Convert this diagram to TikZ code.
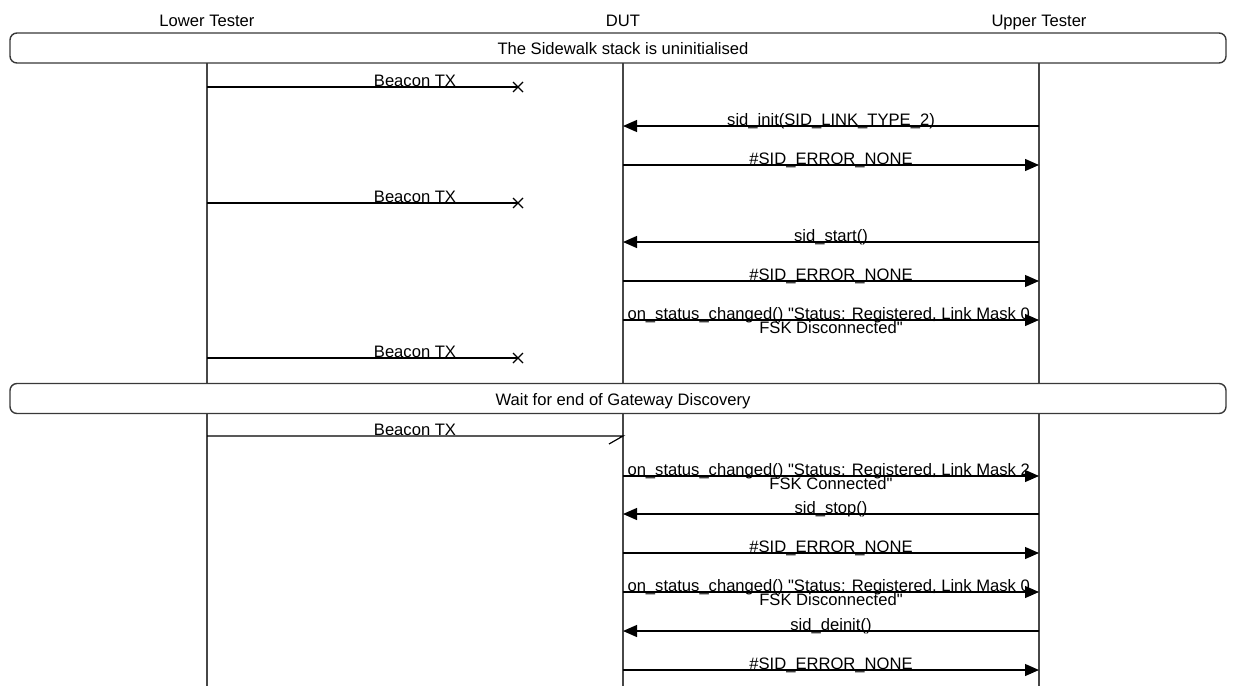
\documentclass[tikz,border=0pt]{standalone}
\usepackage{fontspec}
\setmainfont[Ligatures=TeXOff]{Liberation Sans}
\usetikzlibrary{arrows.meta}
\newcommand\mytightlines{\lineskiplimit=-30pt\relax\lineskip=0pt\relax}
\begin{document}
\begin{tikzpicture}[x=1pt,y=-1pt,
  font=\fontsize{16.6}{14}\selectfont,
  life/.style={draw=black!72, line width=1.7pt},
  framebox/.style={draw=black!78, line width=1.4pt, rounded corners=7pt},
  msg/.style={draw=black, line width=1.2pt},
  sync/.style={msg, -{Triangle[length=14pt,width=12pt]}},
  lbl/.style={anchor=base, inner sep=0pt},
  lbltwo/.style={anchor=base, inner sep=0pt, align=center,
    font=\fontsize{16.6}{13.5}\selectfont\mytightlines},
  ]
\useasboundingbox (0,0) rectangle (1236,686);
% headers
\node[lbl] (hlt) at (207,26) {Lower Tester};
\node[lbl] (hdut) at (623,26) {DUT};
\node[lbl] (hut) at (1039,26) {Upper Tester};
% lifeline coordinates
\coordinate (lta) at (207,63);  \coordinate (ltb) at (207,383);
\coordinate (dua) at (623,63);  \coordinate (dub) at (623,383);
\coordinate (uta) at (1039,63); \coordinate (utb) at (1039,383);
\coordinate (ltc) at (207,414);  \coordinate (ltd) at (207,686);
\coordinate (duc) at (623,414);  \coordinate (dud) at (623,686);
\coordinate (utc) at (1039,414); \coordinate (utd) at (1039,686);
\draw[life] (lta) -- (ltb);
\draw[life] (dua) -- (dub);
\draw[life] (uta) -- (utb);
\draw[life] (ltc) -- (ltd);
\draw[life] (duc) -- (dud);
\draw[life] (utc) -- (utd);
% frames
\node[framebox, minimum width=1216pt, minimum height=30pt, inner sep=0pt] (fbox1) at (618,48) {};
\node[lbl] (f1) at (623,54) {The Sidewalk stack is uninitialised};
\node[framebox, minimum width=1216pt, minimum height=30pt, inner sep=0pt] (fbox2) at (618,398.5) {};
\node[lbl] (f2) at (623,405) {Wait for end of Gateway Discovery};
% message endpoints
\foreach \n/\y in {1/87,2/126,3/165,4/203,5/242,6/281,7/320,8/358,9/436,10/476,11/514,12/553,13/592,14/631,15/670}{
  \coordinate (L\n) at (207,\y);
  \coordinate (D\n) at (623,\y);
  \coordinate (U\n) at (1039,\y);
  \coordinate (X\n) at (518,\y);
}
% 1 lost beacon
\draw[msg] (L1) -- (X1);
\draw[msg] ([shift={(-5,-5)}]X1) -- ([shift={(5,5)}]X1) ([shift={(-5,5)}]X1) -- ([shift={(5,-5)}]X1);
\node[lbl] (t1) at (415,86) {Beacon TX};
% 2
\draw[sync] (U2) -- (D2);
\node[lbl] (t2) at (831,125) {sid\_init(SID\_LINK\_TYPE\_2)};
% 3
\draw[sync] (D3) -- (U3);
\node[lbl] (t3) at (831,164) {\#SID\_ERROR\_NONE};
% 4
\draw[msg] (L4) -- (X4);
\draw[msg] ([shift={(-5,-5)}]X4) -- ([shift={(5,5)}]X4) ([shift={(-5,5)}]X4) -- ([shift={(5,-5)}]X4);
\node[lbl] (t4) at (415,202) {Beacon TX};
% 5
\draw[sync] (U5) -- (D5);
\node[lbl] (t5) at (831,241) {sid\_start()};
% 6
\draw[sync] (D6) -- (U6);
\node[lbl] (t6) at (831,280) {\#SID\_ERROR\_NONE};
% 7
\draw[sync] (D7) -- (U7);
\node[lbltwo] (t7) at (831,333) {on\_status\_changed() "Status: Registered, Link Mask 0,\\FSK Disconnected"};
% 8
\draw[msg] (L8) -- (X8);
\draw[msg] ([shift={(-5,-5)}]X8) -- ([shift={(5,5)}]X8) ([shift={(-5,5)}]X8) -- ([shift={(5,-5)}]X8);
\node[lbl] (t8) at (415,357) {Beacon TX};
% 9 half arrow
\draw[msg] (L9) -- (D9) -- ++(-14,8);
\node[lbl] (t9) at (415,435) {Beacon TX};
% 10
\draw[sync] (D10) -- (U10);
\node[lbltwo] (t10) at (831,489) {on\_status\_changed() "Status: Registered, Link Mask 2,\\FSK Connected"};
% 11
\draw[sync] (U11) -- (D11);
\node[lbl] (t11) at (831,513) {sid\_stop()};
% 12
\draw[sync] (D12) -- (U12);
\node[lbl] (t12) at (831,552) {\#SID\_ERROR\_NONE};
% 13
\draw[sync] (D13) -- (U13);
\node[lbltwo] (t13) at (831,605) {on\_status\_changed() "Status: Registered, Link Mask 0,\\FSK Disconnected"};
% 14
\draw[sync] (U14) -- (D14);
\node[lbl] (t14) at (831,630) {sid\_deinit()};
% 15
\draw[sync] (D15) -- (U15);
\node[lbl] (t15) at (831,669) {\#SID\_ERROR\_NONE};
\end{tikzpicture}
\end{document}
